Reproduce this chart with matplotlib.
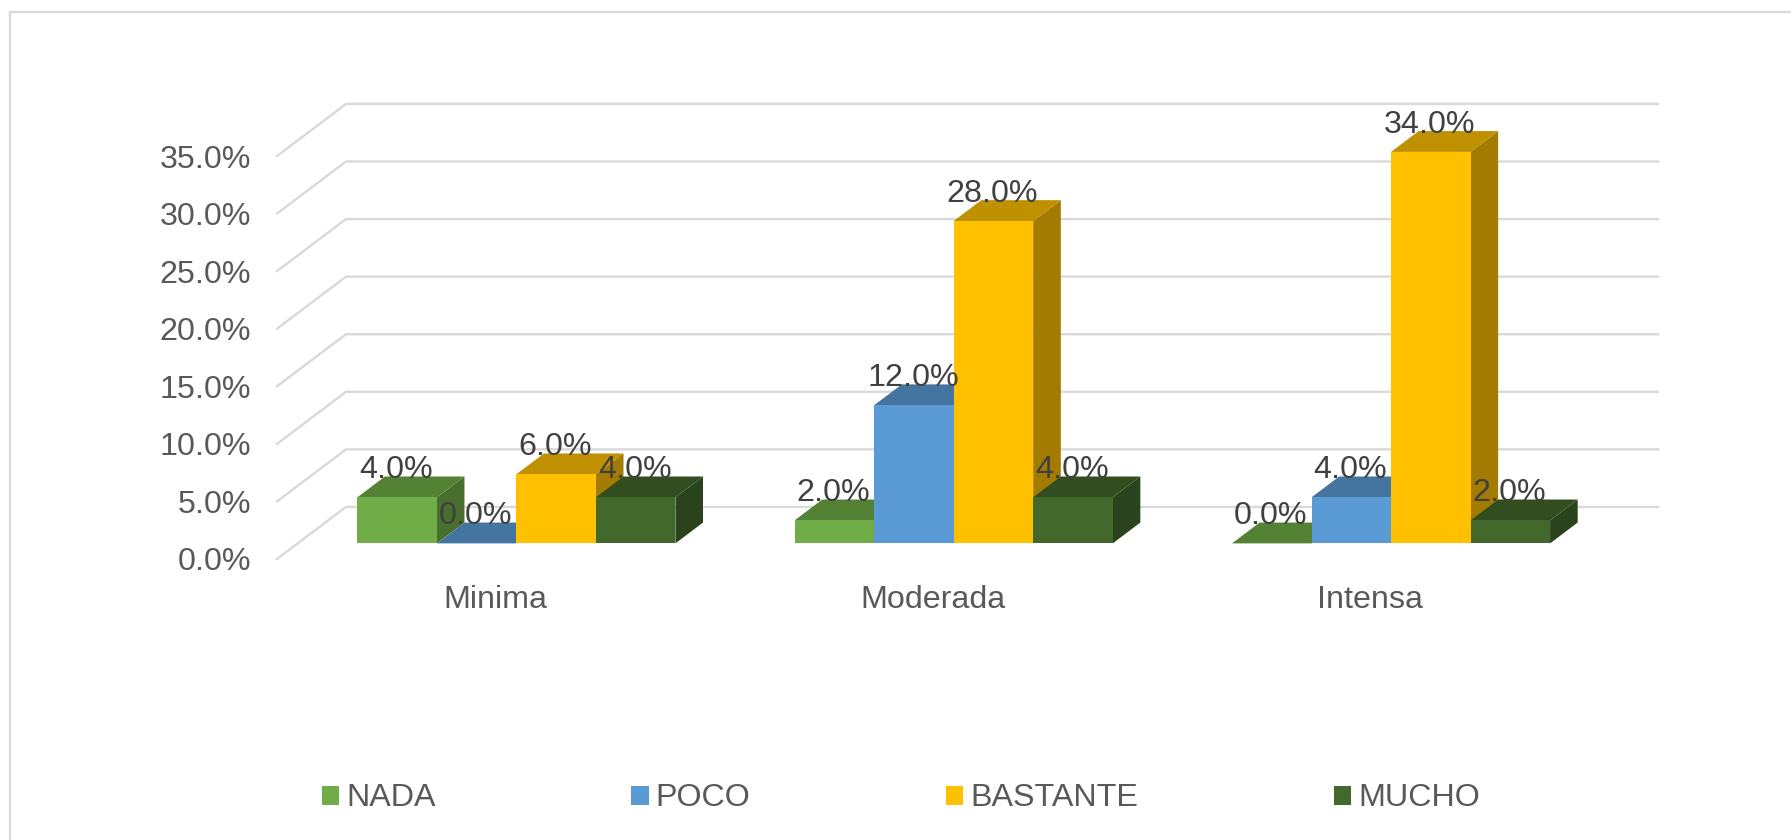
import numpy as np
import matplotlib.pyplot as plt
from matplotlib.patches import Patch, Polygon, Rectangle

CATEGORIES = ["Minima", "Moderada", "Intensa"]
SERIES = ["NADA", "POCO", "BASTANTE", "MUCHO"]
NADA = [4.0, 2.0, 0.0]
POCO = [0.0, 12.0, 4.0]
BASTANTE = [6.0, 28.0, 34.0]
MUCHO = [4.0, 4.0, 2.0]
COLORS = ["#70AD47", "#5B9BD5", "#FFC000", "#43682B"]
Y_TICKS = [0, 5, 10, 15, 20, 25, 30, 35]

W, H = 1791, 840
DPI = 100
GRID = "#D9D9D9"
FONT = 23.2

# oblique depth of the floor, in data units
DEPTH_X = 69 / 437.3
DEPTH_Y = 52 / 11.5
BAR_WIDTH = 1 / 5.5
BAR_GAP = 0.75 * BAR_WIDTH
NEAR, FAR = 0.3, 0.7


def shade(color, factor):
    rgb = np.array(plt.matplotlib.colors.to_rgb(color))
    return tuple(rgb * factor)


def project(x, y, depth):
    return x + depth * DEPTH_X, y + depth * DEPTH_Y


def draw_bar(ax, x, value, color):
    x1 = x + BAR_WIDTH
    front = [project(x, 0, NEAR), project(x1, 0, NEAR), project(x1, value, NEAR), project(x, value, NEAR)]
    top = [project(x, value, NEAR), project(x1, value, NEAR), project(x1, value, FAR), project(x, value, FAR)]
    side = [project(x1, 0, NEAR), project(x1, 0, FAR), project(x1, value, FAR), project(x1, value, NEAR)]
    for pts, fc in [(side, shade(color, 0.64)), (top, shade(color, 0.75)), (front, color)]:
        ax.add_patch(Polygon(pts, closed=True, facecolor=fc, edgecolor="none", clip_on=False, zorder=3))


plt.rcParams["font.family"] = ["Liberation Sans", "DejaVu Sans"]

fig = plt.figure(figsize=(W / DPI, H / DPI), dpi=DPI, facecolor="white")
ax = fig.add_axes([277 / W, (H - 559) / H, (1589 - 277) / W, (559 - 156) / H])
ax.set_xlim(0, 3)
ax.set_ylim(0, 35)
for spine in ax.spines.values():
    spine.set_visible(False)
ax.patch.set_visible(False)

fig.add_artist(Rectangle((10 / W, -0.01), (W - 10) / W + 0.01, (H - 12) / H + 0.01, transform=fig.transFigure,
                         facecolor="none", edgecolor=GRID, linewidth=1.7))

for tick in Y_TICKS:
    bx, by = project(0, tick, 1)
    ex, ey = project(3, tick, 1)
    ax.plot([0, bx, ex], [tick, by, ey], color=GRID, linewidth=1.7, clip_on=False, zorder=1)

ax.set_yticks(Y_TICKS)
ax.set_yticklabels([f"{t:.1f}%" for t in Y_TICKS], fontsize=FONT, color="#595959")
ax.set_xticks([i + 0.5 for i in range(len(CATEGORIES))])
ax.set_xticklabels(CATEGORIES, fontsize=FONT, color="#595959")
ax.tick_params(axis="y", length=0, pad=18.5)
ax.tick_params(axis="x", length=0, pad=18.4)

all_values = [NADA, POCO, BASTANTE, MUCHO]
for g in range(len(CATEGORIES)):
    for s, values in enumerate(all_values):
        x = g + BAR_GAP + s * BAR_WIDTH
        draw_bar(ax, x, values[g], COLORS[s])

for g in range(len(CATEGORIES)):
    for s, values in enumerate(all_values):
        x = g + BAR_GAP + s * BAR_WIDTH
        px, py = project(x + BAR_WIDTH / 2, values[g], NEAR)
        ax.annotate(f"{values[g]:.1f}%", (px, py), xytext=(-1, 19), textcoords="offset pixels",
                    ha="center", va="baseline", fontsize=FONT, color="#404040", zorder=5,
                    annotation_clip=False)

handles = [Patch(facecolor=c, edgecolor="none", label=n) for c, n in zip(COLORS, SERIES)]
fig.legend(handles=handles, loc="center", bbox_to_anchor=(901 / W, (H - 798.5) / H), ncol=4,
           frameon=False, fontsize=FONT, labelcolor="#595959", handlelength=0.53, handleheight=0.53,
           handletextpad=0.22, columnspacing=6.08, borderpad=0, borderaxespad=0)

fig.savefig("out.png", dpi=DPI)
plt.close(fig)
